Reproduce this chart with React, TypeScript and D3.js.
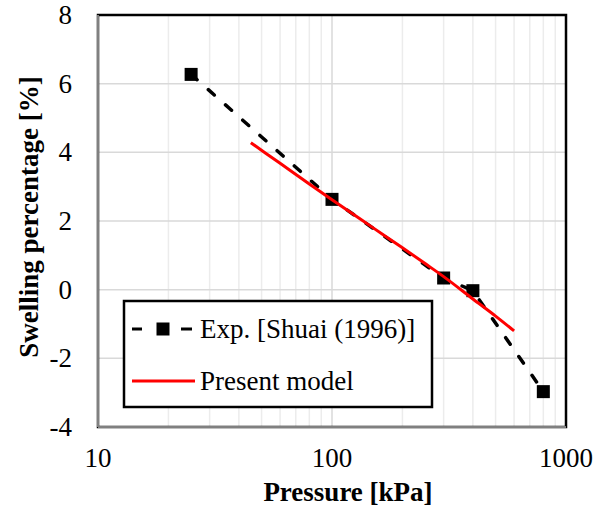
import * as d3 from "d3";

const WIDTH = 597;
const HEIGHT = 509;
const PLOT = { left: 98, top: 15, right: 566, bottom: 427 };

// experimental points
const expPressure = [25, 100, 300, 400, 800];
const expSwelling = [6.27, 2.63, 0.34, -0.03, -2.97];

// model curve
const modelPressure = [45, 60, 80, 100, 150, 200, 250, 300, 400, 500, 600];
const modelSwelling = [4.28, 3.68, 3.08, 2.62, 1.8, 1.22, 0.76, 0.38, -0.27, -0.77, -1.2];

const xTicks = [10, 100, 1000];
const yTicks = [-4, -2, 0, 2, 4, 6, 8];
const minorX = [20, 30, 40, 50, 60, 70, 80, 90, 200, 300, 400, 500, 600, 700, 800, 900];

const legendLabels = ["Exp. [Shuai (1996)]", "Present model"];

const FONT = "Liberation Serif";

export default function App() {
  const x = d3.scaleLog().domain([10, 1000]).range([PLOT.left, PLOT.right]);
  const y = d3.scaleLinear().domain([-4, 8]).range([PLOT.bottom, PLOT.top]);

  const expData = expPressure.map((p, i) => [p, expSwelling[i]] as [number, number]);
  const modelData = modelPressure.map((p, i) => [p, modelSwelling[i]] as [number, number]);

  const line = d3
    .line<[number, number]>()
    .x((d) => x(d[0]))
    .y((d) => y(d[1]));
  const smooth = d3
    .line<[number, number]>()
    .x((d) => x(d[0]))
    .y((d) => y(d[1]))
    .curve(d3.curveMonotoneX);

  const sq = 13;

  return (
    <svg width={WIDTH} height={HEIGHT} style={{ position: "absolute", left: 0, top: 0, background: "white" }}>
      {/* gridlines */}
      {minorX.map((v) => (
        <line key={"mx" + v} x1={x(v)} x2={x(v)} y1={PLOT.top} y2={PLOT.bottom} stroke="#ececec" strokeWidth={1.5} />
      ))}
      <line x1={x(100)} x2={x(100)} y1={PLOT.top} y2={PLOT.bottom} stroke="#d9d9d9" strokeWidth={1.5} />
      {yTicks.map((v) => (
        <line key={"gy" + v} x1={PLOT.left} x2={PLOT.right} y1={y(v)} y2={y(v)} stroke="#d9d9d9" strokeWidth={1.5} />
      ))}

      {/* plot border */}
      <rect
        x={PLOT.left}
        y={PLOT.top}
        width={PLOT.right - PLOT.left}
        height={PLOT.bottom - PLOT.top}
        fill="none"
        stroke="#000"
        strokeWidth={2.5}
      />
      <line x1={PLOT.left} x2={PLOT.left} y1={PLOT.top} y2={PLOT.bottom} stroke="#808080" strokeWidth={2} />
      <line x1={PLOT.left} x2={PLOT.right} y1={PLOT.bottom} y2={PLOT.bottom} stroke="#808080" strokeWidth={2} />

      {/* tick labels */}
      {yTicks.map((v) => (
        <text key={"ty" + v} x={72} y={y(v) + 9} textAnchor="end" fontSize={27} fontFamily={FONT}>
          {v}
        </text>
      ))}
      {xTicks.map((v) => (
        <text key={"tx" + v} x={x(v)} y={467} textAnchor="middle" fontSize={27} fontFamily={FONT}>
          {v}
        </text>
      ))}

      {/* axis titles */}
      <text x={348} y={501} textAnchor="middle" fontSize={27} fontWeight="bold" fontFamily={FONT}>
        Pressure [kPa]
      </text>
      <text
        transform={`translate(38, ${(PLOT.top + PLOT.bottom) / 2 - 4}) rotate(-90)`}
        textAnchor="middle"
        fontSize={27}
        fontWeight="bold"
        fontFamily={FONT}
      >
        Swelling percentage [%]
      </text>

      {/* series */}
      <path
        d={line(expData) ?? ""}
        fill="none"
        stroke="#000"
        strokeWidth={3.5}
        strokeDasharray="8,15"
        strokeLinecap="round"
      />
      {expData.map((d, i) => (
        <rect key={"m" + i} x={x(d[0]) - sq / 2} y={y(d[1]) - sq / 2} width={sq} height={sq} fill="#000" />
      ))}
      <path d={smooth(modelData) ?? ""} fill="none" stroke="#ff0000" strokeWidth={3} />

      {/* legend */}
      <rect x={124} y={301} width={308} height={106} fill="white" stroke="#000" strokeWidth={2.5} />
      <line x1={132} x2={192} y1={329} y2={329} stroke="#000" strokeWidth={3} strokeDasharray="10,39,11" />
      <rect x={163 - sq / 2} y={329 - sq / 2} width={sq} height={sq} fill="#000" />
      <text x={200} y={338} fontSize={27} fontFamily={FONT}>
        {legendLabels[0]}
      </text>
      <line x1={132} x2={195} y1={381} y2={381} stroke="#ff0000" strokeWidth={3} />
      <text x={200} y={390} fontSize={27} fontFamily={FONT}>
        {legendLabels[1]}
      </text>
    </svg>
  );
}
